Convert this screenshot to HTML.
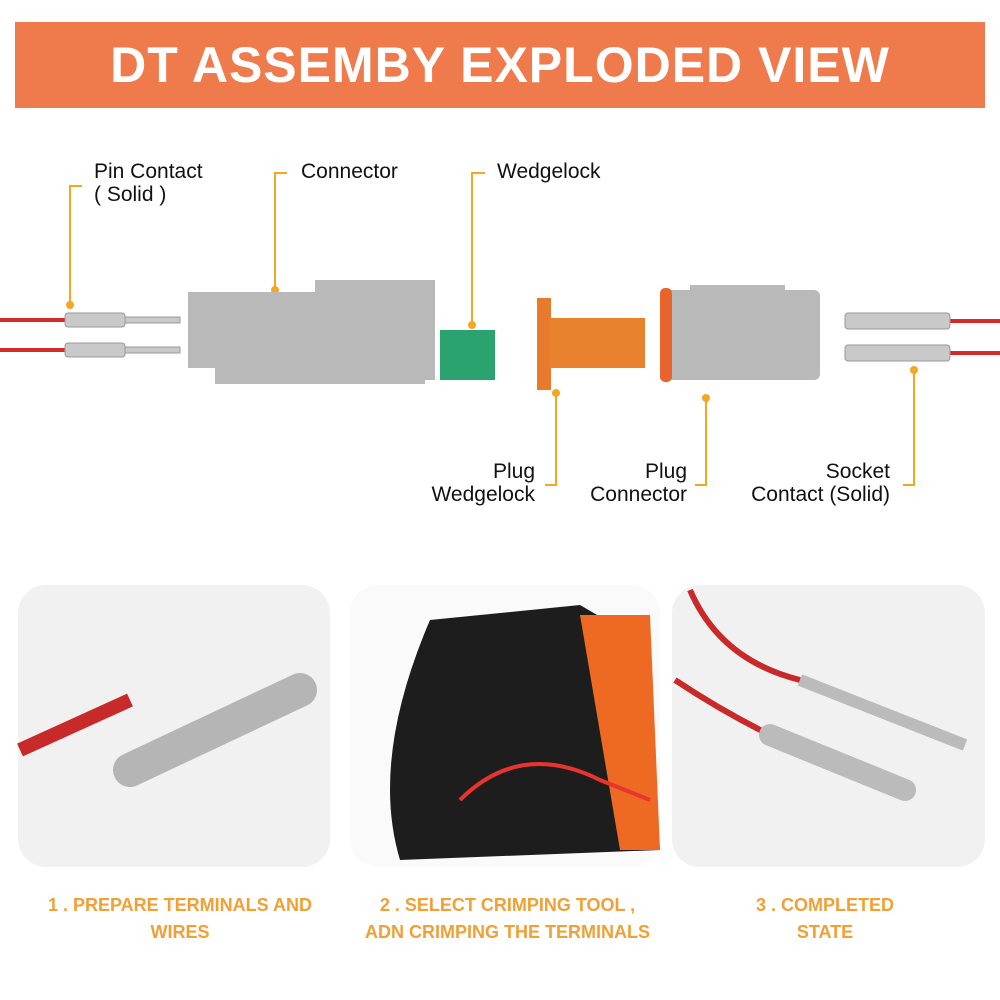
<!DOCTYPE html>
<html><head><meta charset="utf-8"><style>
body{margin:0;width:1000px;height:1000px;background:#fff;font-family:"Liberation Sans",sans-serif;position:relative;overflow:hidden}
.banner{position:absolute;left:15px;top:22px;width:970px;height:86px;background:#ef7a4b;color:#fff;font-weight:bold;font-size:50px;text-align:center;line-height:86px;letter-spacing:1px}
.lbl{position:absolute;font-size:21px;color:#111;line-height:23px}
.cap{position:absolute;font-size:18px;font-weight:bold;color:#f0a035;text-align:center;line-height:27px}
.panel{position:absolute;top:585px;height:282px;background:#f1f1f1;border-radius:28px}
</style></head><body>
<div class="banner">DT ASSEMBY EXPLODED VIEW</div>
<div class="lbl" style="left:94px;top:160px">Pin Contact<br>( Solid )</div>
<div class="lbl" style="left:301px;top:160px">Connector</div>
<div class="lbl" style="left:497px;top:160px">Wedgelock</div>
<div class="lbl" style="left:420px;top:460px;text-align:right;width:115px">Plug<br>Wedgelock</div>
<div class="lbl" style="left:570px;top:460px;text-align:right;width:117px">Plug<br>Connector</div>
<div class="lbl" style="left:730px;top:460px;text-align:right;width:160px">Socket<br>Contact (Solid)</div>
<svg width="1000" height="1000" style="position:absolute;left:0;top:0">
<g stroke="#f5a623" stroke-width="2" fill="none">
<path d="M82 186H70V305"/><path d="M287 173H275V290"/><path d="M485 173H472V325"/>
<path d="M545 485H556V393"/><path d="M695 485H706V398"/><path d="M903 485H914V370"/>
</g>
<g fill="#f5a623"><circle cx="70" cy="305" r="4"/><circle cx="275" cy="290" r="4"/><circle cx="472" cy="325" r="4"/><circle cx="556" cy="393" r="4"/><circle cx="706" cy="398" r="4"/><circle cx="914" cy="370" r="4"/></g>
<g stroke="#d42a2a" stroke-width="4"><line x1="0" y1="320" x2="70" y2="320"/><line x1="0" y1="350" x2="70" y2="350"/><line x1="950" y1="321" x2="1000" y2="321"/><line x1="950" y1="353" x2="1000" y2="353"/></g>
<g fill="#c9c9c9" stroke="#999"><rect x="65" y="313" width="60" height="14" rx="3"/><rect x="125" y="317" width="55" height="6"/><rect x="65" y="343" width="60" height="14" rx="3"/><rect x="125" y="347" width="55" height="6"/>
<rect x="845" y="313" width="105" height="16" rx="3"/><rect x="845" y="345" width="105" height="16" rx="3"/></g>
<g fill="#b9b9b9"><rect x="188" y="292" width="130" height="76"/><rect x="315" y="280" width="120" height="100"/><rect x="215" y="368" width="210" height="16"/>
<rect x="665" y="290" width="155" height="90" rx="6"/><rect x="690" y="285" width="95" height="25"/></g>
<rect x="660" y="288" width="12" height="94" rx="5" fill="#e8642c"/>
<rect x="440" y="330" width="55" height="50" fill="#2aa36e"/>
<rect x="537" y="298" width="14" height="92" fill="#e87a2e"/><rect x="550" y="318" width="95" height="50" fill="#e8822e"/>
</svg>
<div class="panel" style="left:18px;width:312px"></div>
<div class="panel" style="left:350px;width:310px;background:#fafafa"></div>
<div class="panel" style="left:672px;width:313px"></div>
<svg width="1000" height="1000" style="position:absolute;left:0;top:0">
<path d="M20 750 L130 700" stroke="#c82a2a" stroke-width="14"/>
<path d="M130 770 L300 690" stroke="#b5b5b5" stroke-width="34" stroke-linecap="round"/>
<path d="M430 620 L580 605 L640 640 L660 850 L400 860 Q370 760 430 620Z" fill="#1d1d1d"/>
<path d="M580 615 L650 615 L660 850 L620 850Z" fill="#ee6a22"/>
<path d="M460 800 Q520 740 600 780 L650 800" stroke="#e8342f" stroke-width="4" fill="none"/>
<path d="M690 590 Q720 660 800 680" stroke="#c82a2a" stroke-width="6" fill="none"/>
<path d="M800 680 L965 745" stroke="#bbb" stroke-width="12"/>
<path d="M675 680 Q720 710 770 735" stroke="#c82a2a" stroke-width="6" fill="none"/>
<path d="M770 735 L905 790" stroke="#bbb" stroke-width="22" stroke-linecap="round"/>
</svg>
<div class="cap" style="left:30px;top:892px;width:300px">1 . PREPARE TERMINALS AND<br>WIRES</div>
<div class="cap" style="left:345px;top:892px;width:325px">2 . SELECT CRIMPING TOOL ,<br>ADN CRIMPING THE TERMINALS</div>
<div class="cap" style="left:690px;top:892px;width:270px">3 . COMPLETED<br>STATE</div>
</body></html>
